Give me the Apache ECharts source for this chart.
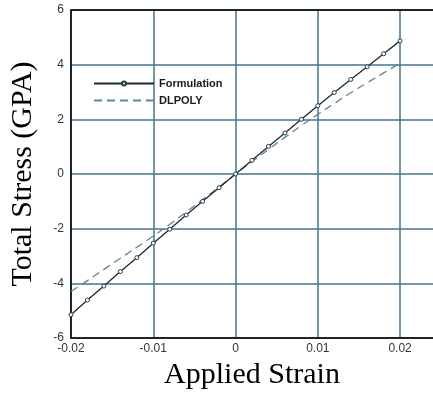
<!DOCTYPE html>
<html>
<head>
<meta charset="utf-8">
<script src="https://cdn.jsdelivr.net/npm/echarts@6/dist/echarts.min.js"></script>
<style>
  html, body { margin: 0; padding: 0; background: #fff; }
  #chart { width: 433px; height: 396px; }
</style>
</head>
<body>
<div id="chart"></div>
<script>
// strain values sampled every 0.002
const strain = [-0.02, -0.018, -0.016, -0.014, -0.012, -0.01, -0.008, -0.006, -0.004, -0.002,
  0, 0.002, 0.004, 0.006, 0.008, 0.01, 0.012, 0.014, 0.016, 0.018, 0.02];
const formulation = [-5.15, -4.61, -4.1, -3.57, -3.06, -2.53, -2.02, -1.5, -1.0, -0.5,
  0, 0.5, 1.01, 1.5, 2.0, 2.5, 2.98, 3.46, 3.92, 4.4, 4.87];
const dlpoly = [-4.3, -3.9, -3.49, -3.08, -2.68, -2.27, -1.84, -1.39, -0.93, -0.47,
  0, 0.45, 0.9, 1.34, 1.77, 2.18, 2.58, 2.97, 3.34, 3.7, 4.05];
const xTicks = [-0.02, -0.01, 0, 0.01, 0.02];
const yTicks = [-6, -4, -2, 0, 2, 4, 6];

const gridColor = "#44758c";
const chart = echarts.init(document.getElementById("chart"));

const tickFont = { fontFamily: "Liberation Sans", fontSize: 12, color: "#333" };

chart.setOption({
  animation: false,
  grid: { left: 70, right: 0, top: 10, bottom: 58 },
  legend: {
    left: 88, top: 73, orient: "vertical", itemWidth: 60, itemHeight: 5, itemGap: 6,
    textStyle: { fontFamily: "Liberation Sans", fontWeight: "bold", fontSize: 11, color: "#1a1a1a" },
    data: [
      { name: "Formulation" },
      { name: "DLPOLY", itemStyle: { opacity: 0 } }
    ]
  },
  xAxis: [
    {
      type: "value", min: -0.02, max: 0.024, interval: 0.01,
      name: "Applied Strain", nameLocation: "middle", nameGap: 19,
      nameTextStyle: { fontFamily: "Liberation Serif", fontSize: 30, color: "#000" },
      axisLine: { show: true, onZero: false, lineStyle: { color: "#000", width: 1.5 } },
      axisTick: { show: false },
      axisLabel: Object.assign({}, tickFont, {
        margin: 5, showMaxLabel: false,
        formatter: (v) => (xTicks.includes(+v.toFixed(3)) ? String(+v.toFixed(3)) : "")
      }),
      splitLine: { show: true, showMaxLine: false, lineStyle: { color: gridColor, width: 1.5 } }
    },
    {
      // top frame line only
      type: "value", position: "top", min: -0.02, max: 0.024,
      axisLine: { show: true, onZero: false, lineStyle: { color: "#000", width: 1.5 } },
      axisTick: { show: false }, axisLabel: { show: false }, splitLine: { show: false }
    }
  ],
  yAxis: {
    type: "value", min: -6, max: 6, interval: 2,
    name: "Total Stress (GPA)", nameLocation: "middle", nameGap: 33,
    nameTextStyle: { fontFamily: "Liberation Serif", fontSize: 30, color: "#000" },
    axisLine: { show: true, onZero: false, lineStyle: { color: "#000", width: 1.5 } },
    axisTick: { show: false },
    axisLabel: Object.assign({}, tickFont, {
      margin: 7,
      formatter: (v) => (yTicks.includes(v) ? String(v) : "")
    }),
    splitLine: { show: true, lineStyle: { color: gridColor, width: 1.5 } }
  },
  series: [
    {
      name: "Formulation", type: "line",
      data: strain.map((s, i) => [s, formulation[i]]),
      symbol: "circle", symbolSize: 4,
      itemStyle: { color: "#fff", borderColor: "#2a3a40", borderWidth: 1 },
      lineStyle: { color: "#1c2a30", width: 1.3 },
      z: 3
    },
    {
      name: "DLPOLY", type: "line", smooth: true,
      data: strain.map((s, i) => [s, dlpoly[i]]),
      showSymbol: false,
      itemStyle: { color: "#5a8898" },
      lineStyle: { color: "#5a8898", width: 1.3, type: [8, 5] },
      z: 2
    }
  ]
});
</script>
</body>
</html>
